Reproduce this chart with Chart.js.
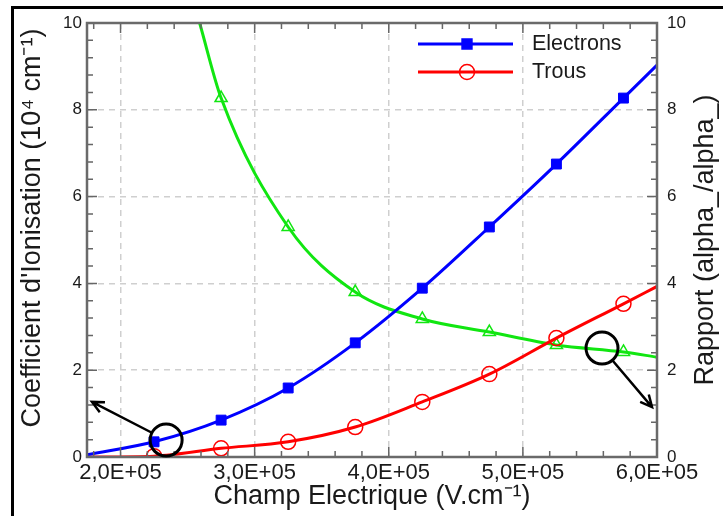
<!DOCTYPE html>
<html lang="fr">
<head>
<meta charset="UTF-8">
<title>Coefficient d'ionisation</title>
<script src="https://cdn.jsdelivr.net/npm/chart.js"></script>
<style>
  body { margin: 0; background: #fff; }
  #wrap { position: relative; width: 723px; height: 516px; overflow: hidden; }
  #frame { position: absolute; left: 11px; top: 6px; width: 800px; height: 600px;
           border-top: 3px solid #000; border-left: 3px solid #000; }
  canvas { position: absolute; left: 0; top: 0; }
</style>
</head>
<body>
<div id="wrap">
  <div id="frame"></div>
  <canvas id="chart" width="723" height="516"></canvas>
</div>
<script>
// champ electrique (V/cm) - premier et dernier point = bouts de la courbe, sans marqueur
const champ = [1.75e5, 2.25e5, 2.75e5, 3.25e5, 3.75e5, 4.25e5, 4.75e5, 5.25e5, 5.75e5, 6.0e5];
const electrons = [0.05, 0.35, 0.85, 1.59, 2.63, 3.89, 5.30, 6.75, 8.27, 9.03];
const trous = [0.0, 0.02, 0.2, 0.35, 0.69, 1.27, 1.91, 2.74, 3.53, 3.93];

const champRapport = [2.59e5, 2.75e5, 3.25e5, 3.75e5, 4.25e5, 4.75e5, 5.25e5, 5.75e5, 6.0e5];
const rapport = [10.0, 8.27, 5.30, 3.80, 3.18, 2.88, 2.58, 2.42, 2.30];

const xTicks = [2e5, 3e5, 4e5, 5e5, 6e5];
const xTickLabels = ['2,0E+05', '3,0E+05', '4,0E+05', '5,0E+05', '6,0E+05'];

const titreY = "Coefficient d'Ionisation (10⁴ cm⁻¹)";
const titreY1 = 'Rapport (alpha_/alpha_)';

// annotations : cercle (champ, valeur) et pointe de la fleche
const cercles = [[2.34e5, 0.39], [5.59e5, 2.51]];
const fleches = [[1.787e5, 1.27], [5.963e5, 1.15]];

const FONT = '"Liberation Sans", Arial, sans-serif';
Chart.defaults.font.family = FONT;
Chart.defaults.color = '#1a1a1a';

function pts(xs, ys) {
  return xs.map((v, i) => ({x: v, y: ys[i]}));
}
function rayon(r) {
  return ctx => (ctx.dataIndex === 0 || ctx.dataIndex === ctx.dataset.data.length - 1) ? 0 : r;
}

function marqueur(ctx, style, x, y, r, color, fill) {
  ctx.beginPath();
  if (style === 'rect') {
    const s = r * Math.SQRT1_2;
    ctx.rect(x - s, y - s, 2 * s, 2 * s);
  } else if (style === 'circle') {
    ctx.arc(x, y, r, 0, Math.PI * 2);
  } else {
    ctx.moveTo(x, y - r);
    ctx.lineTo(x + r * 0.866, y + r * 0.5);
    ctx.lineTo(x - r * 0.866, y + r * 0.5);
    ctx.closePath();
  }
  if (fill) { ctx.fillStyle = color; ctx.fill(); }
  ctx.strokeStyle = color;
  ctx.lineWidth = 1.5;
  ctx.stroke();
}

function titreVertical(ctx, text, x, y) {
  ctx.save();
  ctx.translate(x, y);
  ctx.rotate(-Math.PI / 2);
  ctx.fillStyle = '#1a1a1a';
  ctx.font = '27px ' + FONT;
  ctx.textAlign = 'center';
  ctx.textBaseline = 'middle';
  ctx.fillText(text, 0, 0);
  ctx.restore();
}

const decor = {
  id: 'decor',
  afterDraw(chart) {
    const {ctx, chartArea: a} = chart;
    const x = chart.scales.x, y = chart.scales.y;
    ctx.save();

    // petites graduations vers l'interieur
    ctx.strokeStyle = '#666';
    ctx.lineWidth = 1.5;
    ctx.beginPath();
    for (let k = 9; k <= 30; k++) {
      const px = x.getPixelForValue(k * 2e4);
      const len = k % 5 === 0 ? 10 : 6;
      ctx.moveTo(px, a.bottom); ctx.lineTo(px, a.bottom - len);
      ctx.moveTo(px, a.top); ctx.lineTo(px, a.top + len);
    }
    for (let k = 0; k <= 25; k++) {
      const py = y.getPixelForValue(k * 0.4);
      const len = k % 5 === 0 ? 10 : 6;
      ctx.moveTo(a.left, py); ctx.lineTo(a.left + len, py);
      ctx.moveTo(a.right, py); ctx.lineTo(a.right - len, py);
    }
    ctx.stroke();

    // cadre du graphe
    ctx.strokeStyle = '#6a6a6a';
    ctx.lineWidth = 2.5;
    ctx.strokeRect(a.left, a.top, a.right - a.left, a.bottom - a.top);

    // titres des axes verticaux (les deux lus de bas en haut)
    const mid = (a.top + a.bottom) / 2;
    titreVertical(ctx, titreY, 33, mid - 12);
    titreVertical(ctx, titreY1, 706, mid);

    // legende
    let row = 0;
    chart.data.datasets.forEach(ds => {
      if (!ds.inLegend) return;
      const ly = a.top + 21 + row * 28;
      ctx.strokeStyle = ds.borderColor;
      ctx.lineWidth = 3;
      ctx.beginPath();
      ctx.moveTo(a.left + 331, ly);
      ctx.lineTo(a.left + 426, ly);
      ctx.stroke();
      marqueur(ctx, ds.pointStyle, a.left + 380, ly, ds.legendRadius, ds.borderColor, ds.pointStyle === 'rect');
      ctx.fillStyle = '#1a1a1a';
      ctx.font = '21.5px ' + FONT;
      ctx.textBaseline = 'middle';
      ctx.textAlign = 'left';
      ctx.fillText(ds.label, a.left + 445, ly);
      row++;
    });

    // cercles + fleches
    ctx.strokeStyle = '#000';
    cercles.forEach((c, i) => {
      const cx = x.getPixelForValue(c[0]), cy = y.getPixelForValue(c[1]);
      const tx = x.getPixelForValue(fleches[i][0]), ty = y.getPixelForValue(fleches[i][1]);
      const r = 16;
      ctx.lineWidth = 3;
      ctx.beginPath();
      ctx.arc(cx, cy, r, 0, Math.PI * 2);
      ctx.stroke();
      const ang = Math.atan2(ty - cy, tx - cx);
      ctx.lineWidth = 2.5;
      ctx.beginPath();
      ctx.moveTo(cx + r * Math.cos(ang), cy + r * Math.sin(ang));
      ctx.lineTo(tx, ty);
      ctx.moveTo(tx - 13 * Math.cos(ang - 0.45), ty - 13 * Math.sin(ang - 0.45));
      ctx.lineTo(tx, ty);
      ctx.lineTo(tx - 13 * Math.cos(ang + 0.45), ty - 13 * Math.sin(ang + 0.45));
      ctx.stroke();
    });
    ctx.restore();
  }
};

new Chart(document.getElementById('chart'), {
  type: 'line',
  data: {
    datasets: [
      {
        label: 'Electrons',
        data: pts(champ, electrons),
        yAxisID: 'y',
        borderColor: '#0000ff',
        backgroundColor: '#0000ff',
        borderWidth: 3,
        pointStyle: 'rect',
        pointRadius: rayon(7),
        pointBorderWidth: 1,
        cubicInterpolationMode: 'monotone',
        inLegend: true,
        legendRadius: 7
      },
      {
        label: 'Trous',
        data: pts(champ, trous),
        yAxisID: 'y',
        borderColor: '#ff0000',
        backgroundColor: 'rgba(0,0,0,0)',
        borderWidth: 3,
        pointStyle: 'circle',
        pointRadius: rayon(7.5),
        pointBorderWidth: 1.5,
        cubicInterpolationMode: 'monotone',
        inLegend: true,
        legendRadius: 7.5
      },
      {
        label: 'Rapport',
        data: pts(champRapport, rapport),
        yAxisID: 'y1',
        borderColor: '#11e611',
        backgroundColor: 'rgba(0,0,0,0)',
        borderWidth: 3,
        pointStyle: 'triangle',
        pointRadius: rayon(7),
        pointBorderWidth: 1.5,
        cubicInterpolationMode: 'monotone',
        inLegend: false
      }
    ]
  },
  options: {
    responsive: false,
    animation: false,
    layout: { padding: { top: 23, left: 0, right: 0, bottom: 0 } },
    plugins: { legend: { display: false }, tooltip: { enabled: false } },
    scales: {
      x: {
        type: 'linear',
        min: 1.75e5,
        max: 6e5,
        afterBuildTicks: s => { s.ticks = xTicks.map(v => ({value: v})); },
        afterFit: s => { s.height = 59; },
        grid: { color: '#cfcfcf', lineWidth: 1.5, drawTicks: false },
        border: { display: false, dash: [6, 5] },
        ticks: {
          padding: 3,
          maxRotation: 0,
          autoSkip: false,
          font: { size: 22 },
          callback: (v) => xTickLabels[xTicks.indexOf(v)]
        },
        title: {
          display: true,
          text: 'Champ Electrique (V.cm⁻¹)',
          font: { size: 27, lineHeight: 1 },
          padding: { top: 0, bottom: 6 }
        }
      },
      y: {
        position: 'left',
        min: 0,
        max: 10,
        afterFit: s => { s.width = 87; },
        grid: { color: '#cfcfcf', lineWidth: 1.5, drawTicks: false },
        border: { display: false, dash: [6, 5] },
        ticks: { stepSize: 2, padding: 5, font: { size: 17 } },
        title: { display: false }
      },
      y1: {
        position: 'right',
        min: 0,
        max: 10,
        afterFit: s => { s.width = 66; },
        grid: { display: false, drawTicks: false },
        border: { display: false },
        ticks: { stepSize: 2, padding: 10, font: { size: 17 } },
        title: { display: false }
      }
    }
  },
  plugins: [decor]
});
</script>
</body>
</html>
